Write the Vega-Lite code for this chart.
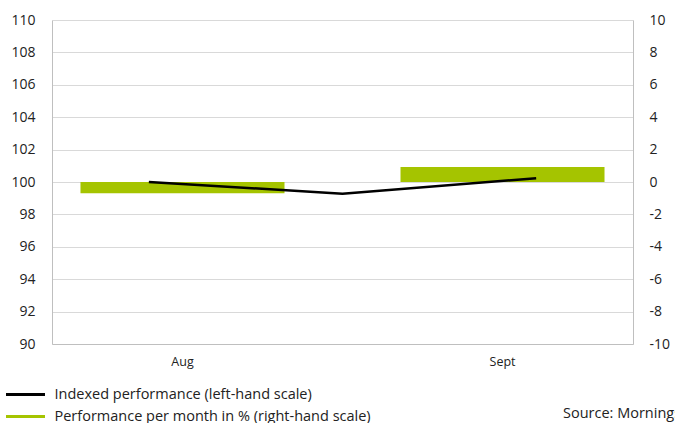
{
  "$schema": "https://vega.github.io/schema/vega-lite/v6.json",
  "width": 581,
  "height": 324,
  "autosize": {"type": "none"},
  "padding": {"left": 52, "top": 20, "right": 42, "bottom": 79},
  "background": "white",
  "config": {
    "view": {"stroke": null},
    "font": "Open Sans",
    "axis": {"labelFont": "Open Sans", "labelColor": "#222222", "domainColor": "#bfbfbf", "gridColor": "#d9d9d9", "ticks": false},
    "legend": {"labelFont": "Open Sans"},
    "title": {"font": "Open Sans"}
  },
  "title": {
    "text": "Source: Morningstar",
    "orient": "top",
    "anchor": "start",
    "frame": "group",
    "dx": 511,
    "dy": 419,
    "offset": 0,
    "baseline": "alphabetic",
    "fontSize": 14.5,
    "fontWeight": "normal",
    "color": "#222222"
  },
  "datasets": {
    "monthly": [
      {"month": "Aug", "pct": -0.7, "series": "Performance per month in % (right-hand scale)"},
      {"month": "Sept", "pct": 0.93, "series": "Performance per month in % (right-hand scale)"}
    ],
    "indexed": [
      {"date": "31 Jul", "index": 100.0, "series": "Indexed performance (left-hand scale)"},
      {"date": "31 Aug", "index": 99.28, "series": "Indexed performance (left-hand scale)"},
      {"date": "30 Sep", "index": 100.23, "series": "Indexed performance (left-hand scale)"}
    ]
  },
  "layer": [
    {
      "data": {"name": "monthly"},
      "mark": {"type": "bar", "color": "#a5c400"},
      "encoding": {
        "x": {
          "field": "month", "type": "nominal", "sort": ["Aug", "Sept"],
          "scale": {"paddingInner": 0.3625, "paddingOuter": 0.089},
          "axis": {"title": null, "labelAngle": 0, "labelFontSize": 12.5, "labelPadding": 11, "domainColor": "#bfbfbf", "grid": false}
        },
        "y": {
          "field": "pct", "type": "quantitative",
          "scale": {"domain": [-10, 10], "nice": false, "zero": false},
          "axis": {"orient": "right", "title": null, "values": [-10, -8, -6, -4, -2, 0, 2, 4, 6, 8, 10], "labelExpr": "'' + datum.value", "grid": false, "labelFontSize": 14, "labelPadding": 16, "labelAlign": "left", "domainColor": "#bfbfbf"}
        },
        "color": {
          "field": "series", "type": "nominal",
          "scale": {"domain": ["Indexed performance (left-hand scale)", "Performance per month in % (right-hand scale)"], "range": ["#000000", "#a5c400"]},
          "legend": {
            "title": null, "orient": "none", "legendX": -38, "legendY": 363, "direction": "vertical",
            "symbolType": "M-2,0H2", "symbolSize": 380, "symbolStrokeWidth": 3, "labelFontSize": 14.5, "labelColor": "#222222",
            "labelOffset": 17.5, "rowPadding": 4, "labelLimit": 500
          }
        }
      }
    },
    {
      "data": {"name": "indexed"},
      "mark": {"type": "line", "color": "#000000", "strokeWidth": 2.5},
      "encoding": {
        "x": {"field": "date", "type": "ordinal", "sort": null, "scale": {"type": "point", "padding": 0.5}, "axis": null},
        "y": {
          "field": "index", "type": "quantitative",
          "scale": {"domain": [90, 110], "nice": false, "zero": false},
          "axis": {"orient": "left", "title": null, "values": [90, 92, 94, 96, 98, 100, 102, 104, 106, 108, 110], "grid": true, "labelFontSize": 14, "labelPadding": 17, "domainColor": "#bfbfbf"}
        },
        "color": {"field": "series", "type": "nominal"}
      }
    }
  ],
  "resolve": {"scale": {"x": "independent", "y": "independent"}, "axis": {"y": "independent"}}
}
